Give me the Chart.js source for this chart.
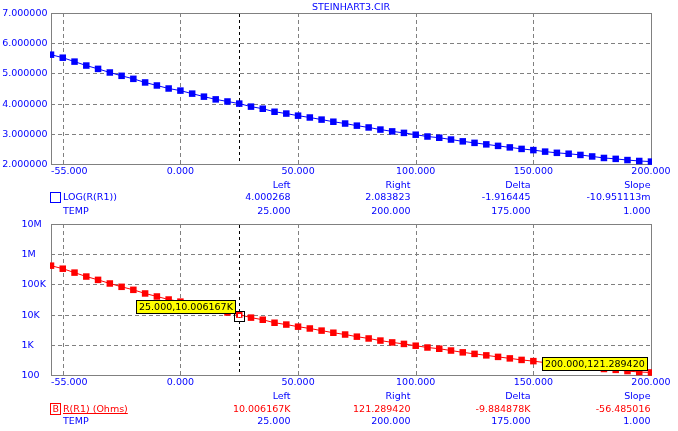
<!DOCTYPE html>
<html><head><meta charset="utf-8">
<script src="https://cdn.jsdelivr.net/npm/chart.js@4/dist/chart.umd.min.js"></script>
<style>
html,body{margin:0;padding:0;background:#fff;width:678px;height:431px;overflow:hidden;}
#wrap{position:relative;width:678px;height:431px;font-family:"DejaVu Sans",sans-serif;font-size:9.5px;color:#0000ff;}
canvas{position:absolute;left:0;}
.t{position:absolute;white-space:nowrap;line-height:12px;height:12px;}
.box{position:absolute;box-sizing:border-box;border:1px solid;}
</style></head><body>
<div id="wrap">
<canvas id="c1" width="678" height="180" style="top:0px"></canvas>
<canvas id="c2" width="678" height="180" style="top:211px"></canvas>
</div>
<script>
// ---------- data ----------
const TEMPS = [-55,-50,-45,-40,-35,-30,-25,-20,-15,-10,-5,0,5,10,15,20,25,30,35,40,45,50,55,60,65,70,75,80,85,90,95,100,105,110,115,120,125,130,135,140,145,150,155,160,165,170,175,180,185,190,195,200];
const LOG_R = [5.62,5.52,5.39,5.26,5.15,5.03,4.92,4.82,4.70,4.60,4.50,4.43,4.33,4.23,4.14,4.07,4.00,3.90,3.83,3.73,3.67,3.60,3.54,3.47,3.40,3.34,3.27,3.21,3.14,3.08,3.03,2.97,2.91,2.87,2.81,2.75,2.70,2.65,2.60,2.55,2.50,2.46,2.41,2.37,2.34,2.30,2.25,2.20,2.17,2.13,2.10,2.08];
const R_OHMS = [417000,331000,245500,182000,141300,107200,83200,66100,50100,39800,31600,26900,21400,17000,13800,11750,10006,7940,6760,5370,4680,3980,3470,2950,2510,2190,1860,1620,1380,1200,1070,933,813,741,646,562,501,447,398,355,316,288,257,234,219,200,178,158,148,135,126,121.3];
const TOP_Y_TICKS = [2,3,4,5,6,7];
const TOP_Y_LABELS = ["2.000000","3.000000","4.000000","5.000000","6.000000","7.000000"];
const BOT_Y_TICKS = [100,1000,10000,100000,1000000,10000000];
const BOT_Y_LABELS = ["100","1K","10K","100K","1M","10M"];
const X_GRID = [-50,0,50,100,150,200];
const X_LABEL_VALUES = [-55,0,50,100,150,200];
const X_LABELS = ["-55.000","0.000","50.000","100.000","150.000","200.000"];
const X_MIN = -55, X_MAX = 200;
const CURSOR_LEFT = 25, CURSOR_RIGHT = 200;
const TITLE = "STEINHART3.CIR";
const TABLE_HEAD = ["Left","Right","Delta","Slope"];
const TOP_ROW_NAME = "LOG(R(R1))";
const TOP_ROW = ["4.000268","2.083823","-1.916445","-10.951113m"];
const TEMP_ROW = ["25.000","200.000","175.000","1.000"];
const BOT_ROW_NAME = "R(R1) (Ohms)";
const BOT_ROW = ["10.006167K","121.289420","-9.884878K","-56.485016"];
const LABEL_LEFT = "25.000,10.006167K";
const LABEL_RIGHT = "200.000,121.289420";

// ---------- layout ----------
const BLUE = "#0000ff", RED = "#ff0000", GRAY = "#808080";
const FONT = '9.5px "DejaVu Sans", sans-serif';
const wrap = document.getElementById('wrap');
function txt(s, x, y, align, color, extra) {
  const d = document.createElement('div');
  d.className = 't';
  d.textContent = s;
  d.style.top = (y - 6) + 'px';
  if (align === 'right') { d.style.right = (678 - x) + 'px'; d.style.textAlign = 'right'; }
  else if (align === 'center') { d.style.left = (x - 200) + 'px'; d.style.width = '400px'; d.style.textAlign = 'center'; }
  else d.style.left = x + 'px';
  if (color) d.style.color = color;
  if (extra) Object.assign(d.style, extra);
  wrap.appendChild(d);
  return d;
}
function box(x, y, w, h, color) {
  const d = document.createElement('div');
  d.className = 'box';
  Object.assign(d.style, {left: x + 'px', top: y + 'px', width: w + 'px', height: h + 'px', borderColor: color});
  wrap.appendChild(d);
  return d;
}
const COLS = [290.5, 410.5, 530.5, 650.5];

txt(TITLE, 351, 7, 'center');
// top table
TABLE_HEAD.forEach((s, i) => txt(s, COLS[i], 184.7, 'right'));
box(50, 191.5, 11, 11, BLUE);
txt(TOP_ROW_NAME, 63, 197);
TOP_ROW.forEach((s, i) => txt(s, COLS[i], 197, 'right'));
txt("TEMP", 63, 210.7);
TEMP_ROW.forEach((s, i) => txt(s, COLS[i], 210.7, 'right'));
// bottom table
TABLE_HEAD.forEach((s, i) => txt(s, COLS[i], 395.7, 'right'));
box(50, 402.5, 11, 12, RED);
txt("B", 52.5, 408.5, 'left', RED);
txt(BOT_ROW_NAME, 63, 409, 'left', RED, {textDecoration: 'underline'});
BOT_ROW.forEach((s, i) => txt(s, COLS[i], 409, 'right', RED));
txt("TEMP", 63, 421.3);
TEMP_ROW.forEach((s, i) => txt(s, COLS[i], 421.3, 'right'));

function makePlugin(yTicks, yLabels, yAlign, yLabelX, annotate) {
  return {
    id: 'msim',
    beforeDatasetsDraw(chart) {
      const {ctx, chartArea: a, scales: {x, y}} = chart;
      ctx.save();
      // dashed grid
      ctx.strokeStyle = GRAY; ctx.lineWidth = 1; ctx.setLineDash([4, 3]);
      X_GRID.forEach(v => {
        const px = Math.round(x.getPixelForValue(v)) + 0.5;
        ctx.beginPath(); ctx.moveTo(px, a.top); ctx.lineTo(px, a.bottom); ctx.stroke();
      });
      yTicks.forEach(v => {
        const py = Math.round(y.getPixelForValue(v)) + 0.5;
        ctx.beginPath(); ctx.moveTo(a.left, py); ctx.lineTo(a.right, py); ctx.stroke();
      });
      // frame
      ctx.setLineDash([]);
      ctx.strokeRect(a.left + 0.5, a.top + 0.5, a.right - a.left, a.bottom - a.top);
      // cursor
      const cx = Math.round(x.getPixelForValue(CURSOR_LEFT)) + 0.5;
      ctx.strokeStyle = '#000'; ctx.setLineDash([3, 3]);
      ctx.beginPath(); ctx.moveTo(cx, a.top + 1); ctx.lineTo(cx, a.bottom); ctx.stroke();
      ctx.restore();
    },
    afterDatasetsDraw(chart) {
      if (annotate) annotate(chart);
    },
    afterDraw(chart) {
      const {ctx, chartArea: a, scales: {x, y}} = chart;
      ctx.save();
      ctx.font = FONT; ctx.fillStyle = BLUE; ctx.textBaseline = 'middle';
      X_LABEL_VALUES.forEach((v, i) => {
        const px = x.getPixelForValue(v);
        ctx.textAlign = (v === X_MIN) ? 'left' : 'center';
        ctx.fillText(X_LABELS[i], px, a.bottom + 8);
      });
      ctx.textAlign = yAlign;
      yTicks.forEach((v, i) => {
        ctx.fillText(yLabels[i], yLabelX, y.getPixelForValue(v) + 0.5);
      });
      ctx.restore();
    }
  };
}

function commonX() {
  return {
    type: 'linear', min: X_MIN, max: X_MAX,
    afterBuildTicks: s => { s.ticks = X_GRID.map(v => ({value: v})); },
    afterFit: s => { s.height = 16; },
    ticks: {display: false},
    grid: {display: false, drawTicks: false},
    border: {display: false}
  };
}

function makeChart(id, values, color, yScale, plugin) {
  return new Chart(document.getElementById(id), {
    type: 'line',
    data: {datasets: [{
      data: TEMPS.map((t, i) => ({x: t, y: values[i]})),
      borderColor: color, backgroundColor: color, borderWidth: 1,
      pointStyle: 'rect', pointRadius: 4.6, pointBorderWidth: 0,
      pointBackgroundColor: color, tension: 0,
      clip: {left: 1, right: 1, top: 6, bottom: 6}
    }]},
    options: {
      responsive: false, animation: false, events: [],
      devicePixelRatio: 1,
      layout: {padding: {left: 0, right: 27, top: 13, bottom: 0}},
      plugins: {legend: {display: false}, tooltip: {enabled: false}, title: {display: false}},
      scales: {x: commonX(), y: yScale}
    },
    plugins: [plugin]
  });
}

// top chart
makeChart('c1', LOG_R, BLUE, {
  type: 'linear', min: 2, max: 7,
  afterBuildTicks: s => { s.ticks = TOP_Y_TICKS.map(v => ({value: v})); },
  afterFit: s => { s.width = 51; },
  ticks: {display: false},
  grid: {display: false, drawTicks: false},
  border: {display: false}
}, makePlugin(TOP_Y_TICKS, TOP_Y_LABELS, 'right', 47.5, null));

// bottom chart
function annotateBottom(chart) {
  const {ctx, scales: {x, y}} = chart;
  ctx.save();
  ctx.font = FONT; ctx.textBaseline = 'middle'; ctx.textAlign = 'left';
  const iL = TEMPS.indexOf(CURSOR_LEFT), iR = TEMPS.indexOf(CURSOR_RIGHT);
  const pL = {x: x.getPixelForValue(CURSOR_LEFT), y: y.getPixelForValue(R_OHMS[iL])};
  const pR = {x: x.getPixelForValue(CURSOR_RIGHT), y: y.getPixelForValue(R_OHMS[iR])};
  // small cursor square
  ctx.fillStyle = '#fff';
  ctx.fillRect(Math.round(pL.x) - 1, Math.round(pL.y) - 1, 3, 3);
  ctx.strokeStyle = '#000'; ctx.lineWidth = 1;
  ctx.strokeRect(Math.round(pL.x) - 5 + 0.5, Math.round(pL.y) - 4 + 0.5, 10, 10);
  function label(s, p) {
    const w = Math.round(ctx.measureText(s).width) + 6, h = 14;
    const r = Math.round(p.x) - 3, b = Math.round(p.y) - 1;
    ctx.fillStyle = '#ffff00';
    ctx.fillRect(r - w, b - h, w, h);
    ctx.strokeStyle = '#000';
    ctx.strokeRect(r - w + 0.5, b - h + 0.5, w - 1, h - 1);
    ctx.fillStyle = '#000';
    ctx.fillText(s, r - w + 3, b - h / 2 + 0.5);
  }
  label(LABEL_LEFT, pL);
  label(LABEL_RIGHT, pR);
  ctx.restore();
}
makeChart('c2', R_OHMS, RED, {
  type: 'logarithmic', min: 100, max: 10000000,
  afterBuildTicks: s => { s.ticks = BOT_Y_TICKS.map(v => ({value: v})); },
  afterFit: s => { s.width = 51; },
  ticks: {display: false},
  grid: {display: false, drawTicks: false},
  border: {display: false}
}, makePlugin(BOT_Y_TICKS, BOT_Y_LABELS, 'left', 21.5, annotateBottom));
</script>
</body></html>
